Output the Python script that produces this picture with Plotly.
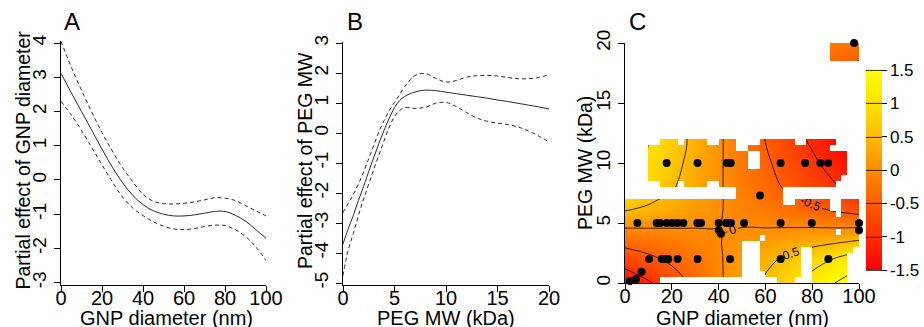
import plotly.graph_objects as go

W, H = 924, 327

# ---------------- Panel A: partial effect of GNP diameter ----------------
gnp_x = [0, 5, 10, 15, 20, 25, 30, 35, 40, 45, 50, 55, 60, 65, 70, 75, 80, 85, 90, 95, 100]
gnp_fit = [3.12, 2.55, 2.0, 1.45, 0.9, 0.38, -0.08, -0.45, -0.72, -0.9, -1.0, -1.05, -1.05, -1.02,
           -0.97, -0.92, -0.92, -1.03, -1.2, -1.45, -1.7]
gnp_upper = [4.05, 3.3, 2.62, 1.98, 1.38, 0.85, 0.36, -0.05, -0.42, -0.62, -0.69, -0.7, -0.68, -0.64,
             -0.58, -0.52, -0.53, -0.6, -0.75, -0.9, -1.05]
gnp_lower = [2.3, 1.9, 1.45, 0.95, 0.44, -0.05, -0.5, -0.82, -1.04, -1.22, -1.35, -1.43, -1.45, -1.42,
             -1.36, -1.32, -1.33, -1.45, -1.65, -1.95, -2.35]

# ---------------- Panel B: partial effect of PEG MW ----------------
peg_x = [0, 0.5, 1, 1.5, 2, 2.5, 3, 3.5, 4, 4.5, 5, 5.5, 6, 7, 8, 9, 10, 11, 12, 13, 14, 15, 16, 17, 18, 19, 20]
peg_fit = [-3.7, -3.2, -2.75, -2.25, -1.78, -1.28, -0.8, -0.33, 0.1, 0.5, 0.85, 1.08, 1.22, 1.37, 1.43,
           1.41, 1.36, 1.31, 1.26, 1.21, 1.16, 1.1, 1.05, 0.99, 0.93, 0.87, 0.8]
peg_upper = [-2.65, -2.35, -2.05, -1.7, -1.3, -0.85, -0.4, 0.05, 0.42, 0.75, 1.02, 1.28, 1.55, 1.92, 1.98,
             1.82, 1.7, 1.75, 1.86, 1.91, 1.92, 1.9, 1.85, 1.81, 1.81, 1.85, 1.95]
peg_lower = [-4.75, -3.9, -3.35, -2.75, -2.2, -1.7, -1.2, -0.72, -0.25, 0.2, 0.55, 0.75, 0.85, 0.82, 0.86,
             0.99, 1.02, 0.88, 0.68, 0.5, 0.39, 0.33, 0.28, 0.2, 0.07, -0.1, -0.3]

# ---------------- Panel C: interaction surface ----------------
surf_x = [0, 10, 20, 30, 40, 50, 60, 70, 80, 90, 100]
surf_y = [0, 2, 4, 6, 8, 10, 12, 14, 16, 18, 20]
surf_z = [
    [-1.35, -1.05, -0.73, -0.41, -0.07, 0.27, 0.57, 0.86, 1.19, 1.51, 1.86],   # y = 0
    [-0.76, -0.59, -0.41, -0.23, -0.04, 0.18, 0.39, 0.59, 0.81, 1.03, 1.27],   # y = 2
    [-0.20, -0.16, -0.11, -0.06, -0.01, 0.04, 0.08, 0.13, 0.18, 0.22, 0.28],   # y = 4
    [0.50, 0.40, 0.28, 0.15, 0.02, -0.09, -0.19, -0.29, -0.40, -0.52, -0.63],  # y = 6
    [0.98, 0.78, 0.54, 0.29, 0.04, -0.17, -0.37, -0.56, -0.77, -0.97, -1.20],  # y = 8
    [1.18, 0.94, 0.64, 0.35, 0.05, -0.21, -0.44, -0.67, -0.92, -1.18, -1.45],  # y = 10
    [1.30, 0.99, 0.70, 0.39, 0.06, -0.24, -0.51, -0.78, -1.07, -1.37, -1.68],  # y = 12
    [1.05, 0.82, 0.57, 0.31, 0.05, -0.20, -0.42, -0.64, -0.88, -1.12, -1.38],  # y = 14
    [0.70, 0.55, 0.38, 0.21, 0.04, -0.14, -0.29, -0.45, -0.62, -0.78, -0.97],  # y = 16
    [0.42, 0.33, 0.23, 0.13, 0.02, -0.08, -0.18, -0.27, -0.37, -0.47, -0.58],  # y = 18
    [0.20, 0.16, 0.11, 0.06, 0.01, -0.04, -0.08, -0.13, -0.18, -0.22, -0.28],  # y = 20
]

# region too far from data (".") vs shown ("#"); rows from PEG 20 (top) down to 0, 2.5 nm x 0.5 kDa cells
too_far_rows = [
    "...................................#####",
    "...................................#####",
    "...................................#####",
    "........................................",
    "........................................",
    "........................................",
    "........................................",
    "........................................",
    "........................................",
    "........................................",
    "........................................",
    "........................................",
    "........................................",
    "........................................",
    "........................................",
    "........................................",
    "......###.####..###....######..#####....",
    "....###############..##############.....",
    "....#################..###############..",
    "....#################..###############..",
    "....#################..###############..",
    "....##################################..",
    "....#################################...",
    "......###.####..####################....",
    "...................########.............",
    "...................########.............",
    "###########################..######..###",
    "###################################..###",
    "####################################.###",
    "########################################",
    "########################################",
    "####################################.###",
    "#######################.################",
    "####################...#################",
    "####################...#######..#######.",
    "####################...#######..######..",
    "####################...#######..######..",
    "####################...#######..######..",
    "####################....######..######..",
    "######....................###...######..",
]
cell_x = [1.25 + 2.5 * i for i in range(40)]
cell_y = [0.25 + 0.5 * j for j in range(40)]

obs_gnp = [17.8, 31, 43.5, 45.2, 66.5, 77, 83.5, 86.8,
           57.7,
           5.3, 13.5, 15, 17.8, 20.2, 22.4, 24.9, 30.9, 32.5, 40, 43.2, 44.1, 45.3, 50.9, 66.5, 79.8, 100,
           40.1, 41, 100,
           10.3, 15.7, 16.8, 17.8, 18.5, 22.5, 31, 44.9, 66.5, 86.9,
           7.1, 4.7, 2.1, 97.9]
obs_peg = [10, 10, 10, 10, 10, 10, 10, 10,
           7.3,
           5, 5, 5, 5, 5, 5, 5, 5, 5, 5, 5, 5, 5, 5, 5, 5, 5,
           4.4, 4.1, 4.4,
           2, 2, 2, 2, 2, 2, 2, 2, 2, 2,
           0.94, 0.33, 0.17, 20]

cbar_vals = [-1.5, -1, -0.5, 0, 0.5, 1, 1.5]
cbar_text = ["-1.5", "-1", "-0.5", "0", "0.5", "1", "1.5"]

# ------------------------------------------------------------------
FONT = "Liberation Sans, Arial, sans-serif"
LC = "#2a2a2a"
DASH = "4px,3px"

fig = go.Figure()

# Panel A
fig.add_trace(go.Scatter(x=gnp_x, y=gnp_fit, mode="lines", line=dict(color=LC, width=1, shape="spline"),
                         xaxis="x", yaxis="y", hoverinfo="skip"))
fig.add_trace(go.Scatter(x=gnp_x, y=gnp_upper, mode="lines",
                         line=dict(color=LC, width=1, dash=DASH, shape="spline"), xaxis="x", yaxis="y", hoverinfo="skip"))
fig.add_trace(go.Scatter(x=gnp_x, y=gnp_lower, mode="lines",
                         line=dict(color=LC, width=1, dash=DASH, shape="spline"), xaxis="x", yaxis="y", hoverinfo="skip"))

# Panel B
fig.add_trace(go.Scatter(x=peg_x, y=peg_fit, mode="lines", line=dict(color=LC, width=1, shape="spline"),
                         xaxis="x2", yaxis="y2", hoverinfo="skip"))
fig.add_trace(go.Scatter(x=peg_x, y=peg_upper, mode="lines",
                         line=dict(color=LC, width=1, dash=DASH, shape="spline"), xaxis="x2", yaxis="y2", hoverinfo="skip"))
fig.add_trace(go.Scatter(x=peg_x, y=peg_lower, mode="lines",
                         line=dict(color=LC, width=1, dash=DASH, shape="spline"), xaxis="x2", yaxis="y2", hoverinfo="skip"))

# Panel C surface with contours
fig.add_trace(go.Contour(
    x=surf_x, y=surf_y, z=surf_z, xaxis="x3", yaxis="y3",
    colorscale=[[0, "#FF0000"], [0.5, "#FF8C00"], [0.75, "#FFD200"], [1, "#FFFF00"]],
    zmin=-1.5, zmax=1.5, zauto=False,
    contours=dict(coloring="heatmap", start=-1.5, end=1.5, size=0.5, showlabels=True,
                  labelfont=dict(size=12, color="black", family=FONT)),
    line=dict(color="black", width=0.8, smoothing=1),
    colorbar=dict(x=866 / W, xanchor="left", xref="paper", y=1 - 170 / H, yanchor="middle",
                  len=200 / H, lenmode="fraction", thickness=16, thicknessmode="pixels",
                  xpad=0, ypad=0, outlinewidth=0, ticks="outside", ticklen=5, tickcolor="black",
                  tickvals=cbar_vals, ticktext=cbar_text,
                  tickfont=dict(size=17, color="black", family=FONT)),
    hoverinfo="skip",
))

# mask of regions too far from the data (white)
mask_z = [[1 if c == "." else None for c in row] for row in reversed(too_far_rows)]
fig.add_trace(go.Heatmap(x=cell_x, y=cell_y, z=mask_z, xaxis="x3", yaxis="y4",
                         colorscale=[[0, "white"], [1, "white"]], showscale=False, hoverinfo="skip"))

# observed points
fig.add_trace(go.Scatter(x=obs_gnp, y=obs_peg, mode="markers", xaxis="x3", yaxis="y4",
                         marker=dict(color="black", size=8), hoverinfo="skip", cliponaxis=False))

axis_common = dict(showline=True, linecolor="black", linewidth=1, ticks="outside", ticklen=6,
                   tickcolor="black", tickwidth=1, showgrid=False, zeroline=False, automargin=False,
                   tickfont=dict(size=20, color="black", family=FONT))


def yax(**kw):
    d = dict(axis_common)
    d.update(tickangle=-90, tickfont=dict(size=19, color="black", family=FONT))
    d.update(kw)
    return d


def xax(**kw):
    d = dict(axis_common)
    d.update(ticklabelstandoff=-11)
    d.update(kw)
    return d


fig.update_layout(
    width=W, height=H, margin=dict(l=0, r=0, t=0, b=0, pad=0, autoexpand=False),
    paper_bgcolor="white", plot_bgcolor="white", showlegend=False,
    font=dict(family=FONT, color="black"),
    xaxis=xax(domain=[61 / W, 266 / W], range=[0, 100], tickvals=[0, 20, 40, 60, 80, 100], anchor="y"),
    yaxis=yax(domain=[(H - 285.1) / H, (H - 40.6) / H], range=[-3.07, 4.07],
              tickvals=[-3, -2, -1, 0, 1, 2, 3, 4], ticktext=["-3", "-2", "-1", "0", "1", "2", "3", "4"], anchor="x"),
    xaxis2=xax(domain=[343 / W, 549 / W], range=[0, 20], tickvals=[0, 5, 10, 15, 20], anchor="y2"),
    yaxis2=yax(domain=[(H - 284.5) / H, (H - 41.5) / H], range=[-5.05, 3.05],
               tickvals=[-5, -4, -3, -2, -1, 0, 1, 2, 3],
               ticktext=["-5", "-4", "-3", "-2", "-1", "0", "1", "2", "3"], anchor="x2"),
    xaxis3=xax(domain=[625 / W, 859 / W], range=[0, 100], tickvals=[0, 20, 40, 60, 80, 100], anchor="y3"),
    yaxis3=yax(domain=[(H - 283) / H, (H - 43) / H], range=[0, 20], tickvals=[0, 5, 10, 15, 20], anchor="x3"),
    yaxis4=dict(overlaying="y3", range=[0, 20], visible=False, anchor="x3"),
)

ann = []
for txt, x in (("A", 62), ("B", 345), ("C", 627)):
    ann.append(dict(text=txt, x=x / W, y=1 - 22 / H, xref="paper", yref="paper", xanchor="left",
                    yanchor="middle", showarrow=False, font=dict(size=24, color="black", family=FONT)))
for txt, x in (("GNP diameter (nm)", 166), ("PEG MW (kDa)", 446), ("GNP diameter (nm)", 742)):
    ann.append(dict(text=txt, x=x / W, y=1 - 318 / H, xref="paper", yref="paper", xanchor="center",
                    yanchor="middle", showarrow=False, font=dict(size=20, color="black", family=FONT)))
for txt, x, y in (("Partial effect of GNP diameter", 22.5, 160), ("Partial effect of PEG MW", 305, 161),
                  ("PEG MW (kDa)", 585, 163)):
    ann.append(dict(text=txt, x=x / W, y=1 - y / H, xref="paper", yref="paper", xanchor="center",
                    yanchor="middle", textangle=-90, showarrow=False,
                    font=dict(size=19.5, color="black", family=FONT)))
fig.update_layout(annotations=ann)

fig.write_html("out.html", config={"displayModeBar": False},
               post_script="document.body.style.margin='0';document.body.style.overflow='hidden';")
